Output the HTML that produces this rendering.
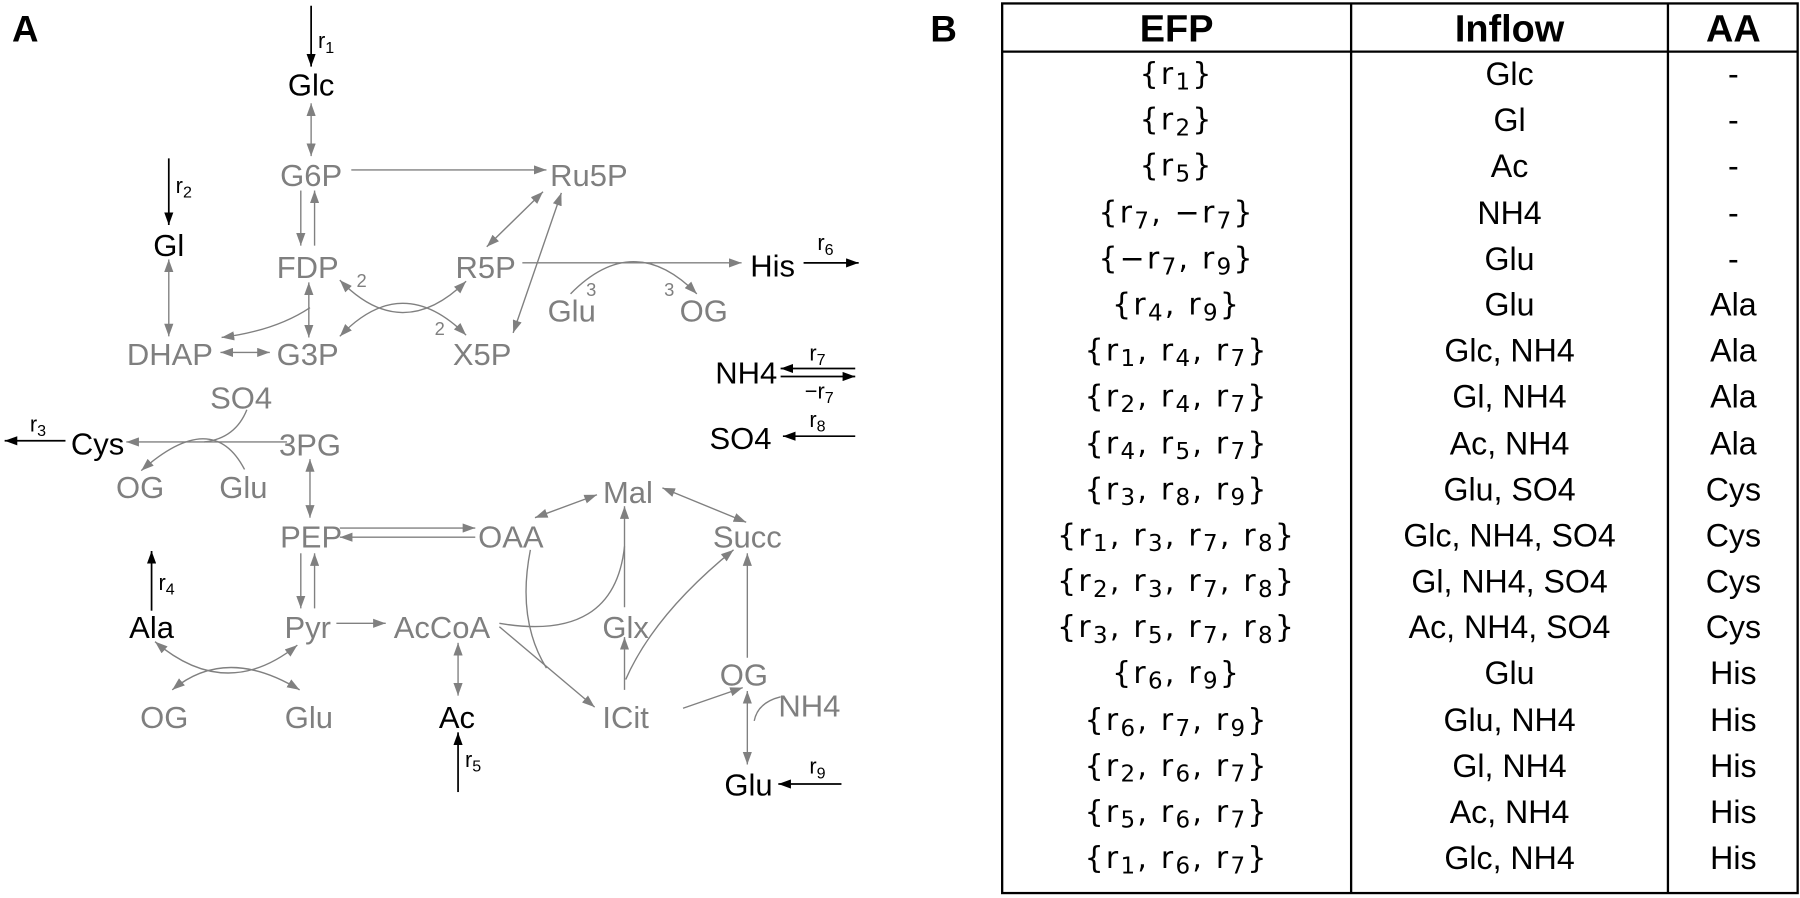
<!DOCTYPE html>
<html><head><meta charset="utf-8"><style>
html,body{margin:0;padding:0;background:#fff;}
svg{display:block;}
.g{fill:#7f7f7f;}
.n{font-family:"Liberation Sans",sans-serif;font-size:27px;text-anchor:middle;}
.e{stroke:#808080;stroke-width:1.2;fill:none;}
.k{stroke:#000;stroke-width:1.5;fill:none;}
.s{font-family:"Liberation Sans",sans-serif;font-size:19px;}
.t{font-family:"Liberation Sans",sans-serif;font-size:28px;text-anchor:middle;}
.f{font-family:"DejaVu Sans",sans-serif;font-size:26px;text-anchor:middle;letter-spacing:2px;}
</style></head><body>
<svg width="1800" height="898" viewBox="0 0 1568 782.3" xmlns="http://www.w3.org/2000/svg">
<defs>
<marker id="ag" markerUnits="userSpaceOnUse" markerWidth="12" markerHeight="8" refX="11" refY="4" orient="auto-start-reverse"><path d="M0,0 L11,4 L0,8 Z" fill="#808080"/></marker>
<marker id="ak" markerUnits="userSpaceOnUse" markerWidth="12" markerHeight="8" refX="11" refY="4" orient="auto-start-reverse"><path d="M0,0 L11,4 L0,8 Z" fill="#000"/></marker>
</defs>
<text x="22" y="36" font-family="Liberation Sans" font-weight="bold" font-size="32" text-anchor="middle">A</text>
<text x="822" y="36" font-family="Liberation Sans" font-weight="bold" font-size="32" text-anchor="middle">B</text>

<path class="k" d="M271,5 V58" marker-end="url(#ak)"/>
<text class="s" x="277" y="42">r<tspan font-size="14" dy="4">1</tspan></text>
<path class="k" d="M147,138 V196" marker-end="url(#ak)"/>
<text class="s" x="153" y="168">r<tspan font-size="14" dy="4">2</tspan></text>
<path class="k" d="M57,384 H4" marker-end="url(#ak)"/>
<text class="s" x="26" y="376">r<tspan font-size="14" dy="4">3</tspan></text>
<path class="k" d="M132,532 V480" marker-end="url(#ak)"/>
<text class="s" x="138" y="514">r<tspan font-size="14" dy="4">4</tspan></text>
<path class="k" d="M399,690 V638" marker-end="url(#ak)"/>
<text class="s" x="405" y="668">r<tspan font-size="14" dy="4">5</tspan></text>
<path class="k" d="M700,229 H748" marker-end="url(#ak)"/>
<text class="s" x="712" y="218">r<tspan font-size="14" dy="4">6</tspan></text>
<path class="k" d="M745,321 H680" marker-end="url(#ak)"/>
<path class="k" d="M680,328 H745" marker-end="url(#ak)"/>
<text class="s" x="705" y="314">r<tspan font-size="14" dy="4">7</tspan></text>
<text class="s" x="701" y="347">−r<tspan font-size="14" dy="4">7</tspan></text>
<path class="k" d="M745,380 H682" marker-end="url(#ak)"/>
<text class="s" x="705" y="372">r<tspan font-size="14" dy="4">8</tspan></text>
<path class="k" d="M733,683 H678" marker-end="url(#ak)"/>
<text class="s" x="705" y="674">r<tspan font-size="14" dy="4">9</tspan></text>

<path class="e" d="M271,90 V136" marker-start="url(#ag)" marker-end="url(#ag)"/>
<path class="e" d="M306,148 H476" marker-end="url(#ag)"/>
<path class="e" d="M262,166 V214" marker-end="url(#ag)"/>
<path class="e" d="M274,214 V166" marker-end="url(#ag)"/>
<path class="e" d="M147,226 V293" marker-start="url(#ag)" marker-end="url(#ag)"/>
<path class="e" d="M269,246 V294" marker-start="url(#ag)" marker-end="url(#ag)"/>
<path class="e" d="M270,268 Q240,288 193,294" marker-end="url(#ag)"/>
<path class="e" d="M192,307 H235" marker-start="url(#ag)" marker-end="url(#ag)"/>
<path class="e" d="M296,244 Q350,300 406,245" marker-start="url(#ag)" marker-end="url(#ag)"/>
<path class="e" d="M296,293 Q350,236 406,292" marker-start="url(#ag)" marker-end="url(#ag)"/>
<text class="g" x="315" y="250" font-family="Liberation Sans" font-size="16" text-anchor="middle">2</text>
<text class="g" x="383" y="292" font-family="Liberation Sans" font-size="16" text-anchor="middle">2</text>
<path class="e" d="M424,215 L473,167" marker-start="url(#ag)" marker-end="url(#ag)"/>
<path class="e" d="M447,290 L489,168" marker-start="url(#ag)" marker-end="url(#ag)"/>
<path class="e" d="M455,229 H646" marker-end="url(#ag)"/>
<path class="e" d="M497,256 Q552,200 607,256" marker-end="url(#ag)"/>
<text class="g" x="515" y="258" font-family="Liberation Sans" font-size="16" text-anchor="middle">3</text>
<text class="g" x="583" y="258" font-family="Liberation Sans" font-size="16" text-anchor="middle">3</text>
<path class="e" d="M250,385 H110" marker-end="url(#ag)"/>
<path class="e" d="M215,357 Q205,382 178,385"/>
<path class="e" d="M213,409 Q185,355 123,410" marker-end="url(#ag)"/>
<path class="e" d="M270,400 V451" marker-start="url(#ag)" marker-end="url(#ag)"/>
<path class="e" d="M296,460 H414" marker-end="url(#ag)"/>
<path class="e" d="M414,468 H296" marker-end="url(#ag)"/>
<path class="e" d="M262,482 V530" marker-end="url(#ag)"/>
<path class="e" d="M274,530 V482" marker-end="url(#ag)"/>
<path class="e" d="M293,543 H336" marker-end="url(#ag)"/>
<path class="e" d="M135,559 Q197,612 259,562" marker-start="url(#ag)" marker-end="url(#ag)"/>
<path class="e" d="M150,601 Q197,562 261,601" marker-start="url(#ag)" marker-end="url(#ag)"/>
<path class="e" d="M399,560 V606" marker-start="url(#ag)" marker-end="url(#ag)"/>
<path class="e" d="M466,451 L520,431" marker-start="url(#ag)" marker-end="url(#ag)"/>
<path class="e" d="M577,425 L650,455" marker-start="url(#ag)" marker-end="url(#ag)"/>
<path class="e" d="M544,529 V441" marker-end="url(#ag)"/>
<path class="e" d="M435,543 Q535,560 544,476"/>
<path class="e" d="M435,546 L518,616" marker-end="url(#ag)"/>
<path class="e" d="M462,479 Q450,540 476,582"/>
<path class="e" d="M544,601 V555" marker-end="url(#ag)"/>
<path class="e" d="M545,592 Q570,535 639,479" marker-end="url(#ag)"/>
<path class="e" d="M651,573 V482" marker-end="url(#ag)"/>
<path class="e" d="M595,617 L647,599" marker-end="url(#ag)"/>
<path class="e" d="M651,602 V666" marker-start="url(#ag)" marker-end="url(#ag)"/>
<path class="e" d="M680,607 Q660,612 657,628"/>

<text class="n" x="271" y="83">Glc</text>
<text class="n" x="147" y="223">Gl</text>
<text class="n" x="673" y="241">His</text>
<text class="n" x="650" y="334">NH4</text>
<text class="n" x="645" y="391">SO4</text>
<text class="n" x="85" y="396">Cys</text>
<text class="n" x="132" y="556">Ala</text>
<text class="n" x="398" y="634">Ac</text>
<text class="n" x="652" y="693">Glu</text>
<g class="g">
<text class="n" x="271" y="162">G6P</text>
<text class="n" x="513" y="162">Ru5P</text>
<text class="n" x="268" y="242">FDP</text>
<text class="n" x="423" y="242">R5P</text>
<text class="n" x="498" y="280">Glu</text>
<text class="n" x="613" y="280">OG</text>
<text class="n" x="148" y="318">DHAP</text>
<text class="n" x="268" y="318">G3P</text>
<text class="n" x="420" y="318">X5P</text>
<text class="n" x="210" y="356">SO4</text>
<text class="n" x="270" y="397">3PG</text>
<text class="n" x="122" y="434">OG</text>
<text class="n" x="212" y="434">Glu</text>
<text class="n" x="547" y="438">Mal</text>
<text class="n" x="271" y="477">PEP</text>
<text class="n" x="445" y="477">OAA</text>
<text class="n" x="651" y="477">Succ</text>
<text class="n" x="268" y="556">Pyr</text>
<text class="n" x="385" y="556">AcCoA</text>
<text class="n" x="545" y="556">Glx</text>
<text class="n" x="648" y="597">OG</text>
<text class="n" x="705" y="624">NH4</text>
<text class="n" x="143" y="634">OG</text>
<text class="n" x="269" y="634">Glu</text>
<text class="n" x="545" y="634">ICit</text>
</g>

<rect x="873" y="3" width="693" height="775" fill="none" stroke="#000" stroke-width="2"/>
<line x1="873" y1="45" x2="1566" y2="45" stroke="#000" stroke-width="2"/>
<line x1="1177" y1="3" x2="1177" y2="778" stroke="#000" stroke-width="2"/>
<line x1="1453" y1="3" x2="1453" y2="778" stroke="#000" stroke-width="2"/>
<g font-family="Liberation Sans" font-weight="bold" font-size="33" text-anchor="middle">
<text x="1025" y="36">EFP</text><text x="1315" y="36">Inflow</text><text x="1510" y="36">AA</text>
</g>
<g class="f">
<text x="1025" y="73">{r<tspan font-size="20" dy="5">1</tspan><tspan dy="-5">}</tspan></text>
<text x="1025" y="113">{r<tspan font-size="20" dy="5">2</tspan><tspan dy="-5">}</tspan></text>
<text x="1025" y="153">{r<tspan font-size="20" dy="5">5</tspan><tspan dy="-5">}</tspan></text>
<text x="1025" y="194">{r<tspan font-size="20" dy="5">7</tspan><tspan dy="-5">, −r</tspan><tspan font-size="20" dy="5">7</tspan><tspan dy="-5">}</tspan></text>
<text x="1025" y="234">{−r<tspan font-size="20" dy="5">7</tspan><tspan dy="-5">, r</tspan><tspan font-size="20" dy="5">9</tspan><tspan dy="-5">}</tspan></text>
<text x="1025" y="274">{r<tspan font-size="20" dy="5">4</tspan><tspan dy="-5">, r</tspan><tspan font-size="20" dy="5">9</tspan><tspan dy="-5">}</tspan></text>
<text x="1025" y="314">{r<tspan font-size="20" dy="5">1</tspan><tspan dy="-5">, r</tspan><tspan font-size="20" dy="5">4</tspan><tspan dy="-5">, r</tspan><tspan font-size="20" dy="5">7</tspan><tspan dy="-5">}</tspan></text>
<text x="1025" y="354">{r<tspan font-size="20" dy="5">2</tspan><tspan dy="-5">, r</tspan><tspan font-size="20" dy="5">4</tspan><tspan dy="-5">, r</tspan><tspan font-size="20" dy="5">7</tspan><tspan dy="-5">}</tspan></text>
<text x="1025" y="395">{r<tspan font-size="20" dy="5">4</tspan><tspan dy="-5">, r</tspan><tspan font-size="20" dy="5">5</tspan><tspan dy="-5">, r</tspan><tspan font-size="20" dy="5">7</tspan><tspan dy="-5">}</tspan></text>
<text x="1025" y="435">{r<tspan font-size="20" dy="5">3</tspan><tspan dy="-5">, r</tspan><tspan font-size="20" dy="5">8</tspan><tspan dy="-5">, r</tspan><tspan font-size="20" dy="5">9</tspan><tspan dy="-5">}</tspan></text>
<text x="1025" y="475">{r<tspan font-size="20" dy="5">1</tspan><tspan dy="-5">, r</tspan><tspan font-size="20" dy="5">3</tspan><tspan dy="-5">, r</tspan><tspan font-size="20" dy="5">7</tspan><tspan dy="-5">, r</tspan><tspan font-size="20" dy="5">8</tspan><tspan dy="-5">}</tspan></text>
<text x="1025" y="515">{r<tspan font-size="20" dy="5">2</tspan><tspan dy="-5">, r</tspan><tspan font-size="20" dy="5">3</tspan><tspan dy="-5">, r</tspan><tspan font-size="20" dy="5">7</tspan><tspan dy="-5">, r</tspan><tspan font-size="20" dy="5">8</tspan><tspan dy="-5">}</tspan></text>
<text x="1025" y="555">{r<tspan font-size="20" dy="5">3</tspan><tspan dy="-5">, r</tspan><tspan font-size="20" dy="5">5</tspan><tspan dy="-5">, r</tspan><tspan font-size="20" dy="5">7</tspan><tspan dy="-5">, r</tspan><tspan font-size="20" dy="5">8</tspan><tspan dy="-5">}</tspan></text>
<text x="1025" y="595">{r<tspan font-size="20" dy="5">6</tspan><tspan dy="-5">, r</tspan><tspan font-size="20" dy="5">9</tspan><tspan dy="-5">}</tspan></text>
<text x="1025" y="636">{r<tspan font-size="20" dy="5">6</tspan><tspan dy="-5">, r</tspan><tspan font-size="20" dy="5">7</tspan><tspan dy="-5">, r</tspan><tspan font-size="20" dy="5">9</tspan><tspan dy="-5">}</tspan></text>
<text x="1025" y="676">{r<tspan font-size="20" dy="5">2</tspan><tspan dy="-5">, r</tspan><tspan font-size="20" dy="5">6</tspan><tspan dy="-5">, r</tspan><tspan font-size="20" dy="5">7</tspan><tspan dy="-5">}</tspan></text>
<text x="1025" y="716">{r<tspan font-size="20" dy="5">5</tspan><tspan dy="-5">, r</tspan><tspan font-size="20" dy="5">6</tspan><tspan dy="-5">, r</tspan><tspan font-size="20" dy="5">7</tspan><tspan dy="-5">}</tspan></text>
<text x="1025" y="756">{r<tspan font-size="20" dy="5">1</tspan><tspan dy="-5">, r</tspan><tspan font-size="20" dy="5">6</tspan><tspan dy="-5">, r</tspan><tspan font-size="20" dy="5">7</tspan><tspan dy="-5">}</tspan></text>
</g>
<g class="t">
<text x="1315" y="74">Glc</text><text x="1315" y="114">Gl</text><text x="1315" y="154">Ac</text>
<text x="1315" y="195">NH4</text><text x="1315" y="235">Glu</text><text x="1315" y="275">Glu</text>
<text x="1315" y="315">Glc, NH4</text><text x="1315" y="355">Gl, NH4</text><text x="1315" y="396">Ac, NH4</text>
<text x="1315" y="436">Glu, SO4</text><text x="1315" y="476">Glc, NH4, SO4</text><text x="1315" y="516">Gl, NH4, SO4</text>
<text x="1315" y="556">Ac, NH4, SO4</text><text x="1315" y="596">Glu</text><text x="1315" y="637">Glu, NH4</text>
<text x="1315" y="677">Gl, NH4</text><text x="1315" y="717">Ac, NH4</text><text x="1315" y="757">Glc, NH4</text>
<text x="1510" y="74">-</text><text x="1510" y="114">-</text><text x="1510" y="154">-</text>
<text x="1510" y="195">-</text><text x="1510" y="235">-</text><text x="1510" y="275">Ala</text>
<text x="1510" y="315">Ala</text><text x="1510" y="355">Ala</text><text x="1510" y="396">Ala</text>
<text x="1510" y="436">Cys</text><text x="1510" y="476">Cys</text><text x="1510" y="516">Cys</text>
<text x="1510" y="556">Cys</text><text x="1510" y="596">His</text><text x="1510" y="637">His</text>
<text x="1510" y="677">His</text><text x="1510" y="717">His</text><text x="1510" y="757">His</text>
</g>
</svg>
</body></html>
